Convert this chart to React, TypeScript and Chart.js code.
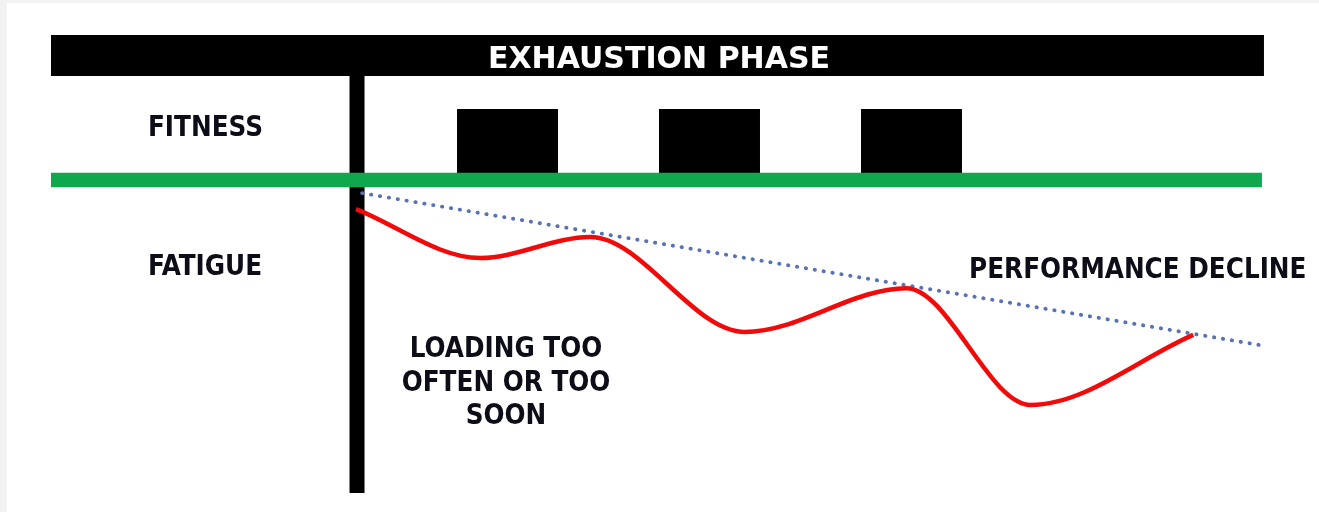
import React, { useEffect, useRef } from 'react';
import { Chart, registerables } from 'chart.js';

Chart.register(...registerables);

// ---- Data (x: weeks from start of phase, y: level relative to fitness baseline) ----
const fatigueWeeks = [0, 1.23, 2.32, 3.85, 5.45, 6.68, 8.29];
const fatigueLevel = [-0.91, -2.44, -1.78, -4.75, -3.38, -7.03, -4.84];

const loadStart = [1, 3, 5];
const loadEnd = [2, 4, 6];
const loadHeight = [2.22, 2.22, 2.22];

const fitnessSpan = [-3.02, 8.97];
const fitnessLevel = 0;

const trendWeeks = [0.06, 9.01];
const trendLevel = [-0.41, -5.19];

const phaseSpan = [-3.02, 8.99];
const phaseBand = [3.25, 4.53];

const dividerWeek = 0.01;
const dividerRange = [3.25, -9.78];

// ---- Text ----
const phaseLabel = 'EXHAUSTION PHASE';
const rowLabels = ['FITNESS', 'FATIGUE'];
const trendLabel = 'PERFORMANCE DECLINE';
const noteLines = ['LOADING TOO', 'OFTEN OR TOO', 'SOON'];

const X_MIN = -3.525;
const X_MAX = 9.535;
const Y_MIN = -10.375;
const Y_MAX = 5.625;

const BODY_FONT = "bold 27.5px 'DejaVu Sans Condensed', 'DejaVu Sans', sans-serif";
const PHASE_FONT = "bold 30px 'DejaVu Sans', sans-serif";

const textItems = [
  { text: phaseLabel, x: 3.0, y: 3.5, align: 'center', font: PHASE_FONT, color: '#ffffff' },
  { text: rowLabels[0], x: -2.06, y: 1.36, align: 'left', font: BODY_FONT, color: '#0d0d18' },
  { text: rowLabels[1], x: -2.06, y: -2.97, align: 'left', font: BODY_FONT, color: '#0d0d18' },
  { text: trendLabel, x: 6.07, y: -3.06, align: 'left', font: BODY_FONT, color: '#0d0d18' },
  { text: noteLines[0], x: 1.485, y: -5.53, align: 'center', font: BODY_FONT, color: '#0d0d18' },
  { text: noteLines[1], x: 1.485, y: -6.58, align: 'center', font: BODY_FONT, color: '#0d0d18' },
  { text: noteLines[2], x: 1.485, y: -7.61, align: 'center', font: BODY_FONT, color: '#0d0d18' },
];

const textPlugin = {
  id: 'diagramText',
  afterDatasetsDraw(chart: any) {
    const { ctx } = chart;
    const xs = chart.scales.x;
    const ys = chart.scales.y;
    ctx.save();
    ctx.textBaseline = 'alphabetic';
    for (const t of textItems) {
      ctx.font = t.font;
      ctx.fillStyle = t.color;
      ctx.textAlign = t.align;
      ctx.fillText(t.text, xs.getPixelForValue(t.x), ys.getPixelForValue(t.y));
    }
    ctx.restore();
  },
};

export default function App() {
  const canvasRef = useRef<HTMLCanvasElement | null>(null);

  useEffect(() => {
    const canvas = canvasRef.current;
    if (!canvas) return;

    const datasets: any[] = [];

    // Phase banner
    datasets.push({
      data: [
        { x: phaseSpan[0], y: phaseBand[1] },
        { x: phaseSpan[1], y: phaseBand[1] },
      ],
      borderWidth: 0,
      borderColor: 'rgba(0,0,0,0)',
      backgroundColor: '#000000',
      fill: { value: phaseBand[0] },
      tension: 0,
      order: 6,
    });

    // Load blocks
    for (let i = 0; i < loadStart.length; i++) {
      datasets.push({
        data: [
          { x: loadStart[i], y: fitnessLevel },
          { x: loadStart[i], y: loadHeight[i] },
          { x: loadEnd[i], y: loadHeight[i] },
          { x: loadEnd[i], y: fitnessLevel },
        ],
        borderWidth: 0,
        borderColor: 'rgba(0,0,0,0)',
        backgroundColor: '#000000',
        fill: { value: fitnessLevel },
        tension: 0,
        order: 5,
      });
    }

    // Divider
    datasets.push({
      data: [
        { x: dividerWeek, y: dividerRange[0] },
        { x: dividerWeek, y: dividerRange[1] },
      ],
      borderWidth: 15,
      borderColor: '#000000',
      borderCapStyle: 'butt',
      fill: false,
      tension: 0,
      order: 4,
    });

    // Trend (dotted)
    datasets.push({
      data: trendWeeks.map((w, i) => ({ x: w, y: trendLevel[i] })),
      borderWidth: 3.8,
      borderColor: '#5872b4',
      borderDash: [0.4, 8.6],
      borderCapStyle: 'round',
      fill: false,
      tension: 0,
      order: 3,
    });

    // Fitness baseline
    datasets.push({
      data: fitnessSpan.map((w) => ({ x: w, y: fitnessLevel })),
      borderWidth: 14.5,
      borderColor: '#10a84c',
      borderCapStyle: 'butt',
      fill: false,
      tension: 0,
      order: 2,
    });

    // Fatigue curve
    datasets.push({
      data: fatigueWeeks.map((w, i) => ({ x: w, y: fatigueLevel[i] })),
      borderWidth: 4.5,
      borderColor: '#f00a0a',
      borderCapStyle: 'butt',
      cubicInterpolationMode: 'monotone',
      fill: false,
      order: 1,
    });

    const chart = new Chart(canvas, {
      type: 'line',
      data: { datasets },
      options: {
        responsive: false,
        maintainAspectRatio: false,
        animation: false,
        events: [],
        layout: { padding: 0 },
        elements: { point: { radius: 0, hoverRadius: 0 } },
        plugins: {
          legend: { display: false },
          tooltip: { enabled: false },
          title: { display: false },
        },
        scales: {
          x: { type: 'linear', min: X_MIN, max: X_MAX, display: false },
          y: { type: 'linear', min: Y_MIN, max: Y_MAX, display: false },
        },
      },
      plugins: [textPlugin],
    } as any);

    return () => chart.destroy();
  }, []);

  return (
    <div
      style={{
        position: 'fixed',
        left: 0,
        top: 0,
        width: 1319,
        height: 512,
        background: '#f2f2f2',
        overflow: 'hidden',
      }}
    >
      <div
        style={{
          position: 'absolute',
          left: 7,
          top: 3,
          right: 0,
          bottom: 0,
          background: '#ffffff',
        }}
      />
      <canvas
        ref={canvasRef}
        width={1319}
        height={512}
        style={{ position: 'absolute', left: 0, top: 0, width: 1319, height: 512, display: 'block' }}
      />
    </div>
  );
}
